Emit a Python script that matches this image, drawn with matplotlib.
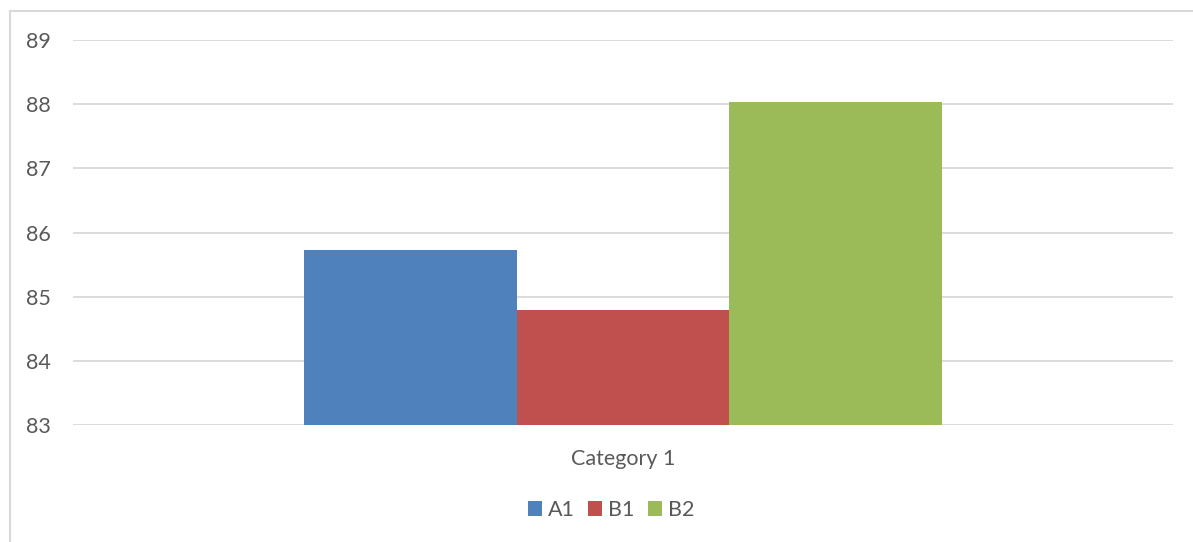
import matplotlib.pyplot as plt
from matplotlib.lines import Line2D

# Datos del grafico
categories = ['Category 1']
series = ['A1', 'B1', 'B2']
values = [85.73, 84.79, 88.03]
colors = ['#4F81BD', '#C0504D', '#9BBB59']
y_ticks = [83, 84, 85, 86, 87, 88, 89]

plt.rcParams['font.family'] = ['Lato', 'DejaVu Sans']
text_color = '#595959'
grid_color = '#D9D9D9'

W, H = 1193, 542
fig = plt.figure(figsize=(W / 100, H / 100), dpi=100)
ax = fig.add_axes([73 / W, 1 - 425 / H, 1100 / W, 385 / H])

# Barras agrupadas alrededor de la categoria
offsets = [-1, 0, 1]
for off, name, val, col in zip(offsets, series, values, colors):
    ax.bar(off, val - y_ticks[0], bottom=y_ticks[0], width=1.0,
           color=col, label=name, zorder=3)

half = 1100 / 212.5 / 2
ax.set_xlim(-half, half)
ax.set_ylim(y_ticks[0], y_ticks[-1])
ax.set_yticks(y_ticks)
ax.set_yticklabels([str(t) for t in y_ticks])
ax.set_xticks([0])
ax.set_xticklabels(categories)

ax.grid(axis='y', color=grid_color, linewidth=1.3, zorder=0)
ax.set_axisbelow(True)
for s in ax.spines.values():
    s.set_visible(False)
ax.tick_params(axis='both', length=0, labelsize=15.5, labelcolor=text_color)
ax.tick_params(axis='y', pad=16)
ax.tick_params(axis='x', pad=17)

fig.legend(loc='center', bbox_to_anchor=(611 / W, 1 - 510 / H), ncol=3,
           frameon=False, fontsize=15.5, labelcolor=text_color,
           handlelength=0.65, handleheight=0.65, handletextpad=0.3,
           columnspacing=0.6)

# Borde del area del grafico
fig.add_artist(Line2D([9.5 / W, 9.5 / W], [0, 1 - 10.5 / H],
                      color=grid_color, linewidth=1.5))
fig.add_artist(Line2D([9.5 / W, 1], [1 - 10.5 / H, 1 - 10.5 / H],
                      color=grid_color, linewidth=1.5))

fig.savefig('out.png', dpi=100)
